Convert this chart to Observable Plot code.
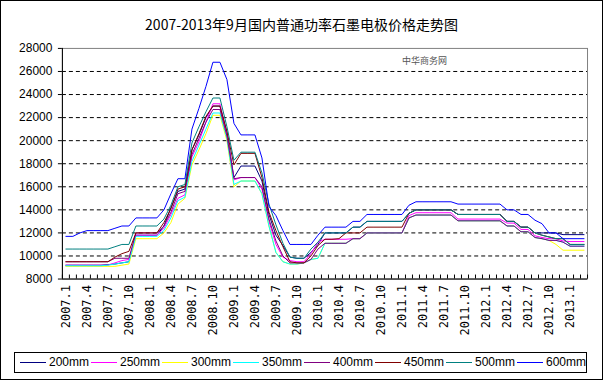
<!DOCTYPE html>
<html><head><meta charset="utf-8">
<script src="https://cdn.jsdelivr.net/npm/d3@7"></script>
<script src="https://cdn.jsdelivr.net/npm/@observablehq/plot@0.6"></script>
<style>
body{margin:0;background:#fff;}
#wrap{position:relative;width:603px;height:380px;box-sizing:border-box;border:1px solid #000;background:#fff;overflow:hidden;font-family:"Liberation Sans",Arial,sans-serif;}
#title{position:absolute;left:0;top:14px;width:601px;text-align:center;font-family:"Noto Sans CJK SC",sans-serif;font-size:14px;line-height:18px;color:#000;}
#chart{position:absolute;left:-1px;top:-1px;}
#mark{position:absolute;left:401px;top:55px;font-size:9px;line-height:10px;color:#555;font-family:"Noto Sans CJK SC",sans-serif;}
#legend{position:absolute;left:13px;top:351px;width:573px;height:21px;border:1px solid #000;box-sizing:border-box;background:#fff;}
.item{position:absolute;top:0;height:19px;font-size:12px;line-height:19px;font-family:"Liberation Sans Narrow","Liberation Sans",sans-serif;color:#000;white-space:nowrap;}
.item span.sw{display:inline-block;width:26px;height:1px;vertical-align:middle;margin-right:3px;}
</style></head>
<body>
<div id="wrap">
  <div id="title"></div>
  <div id="chart"></div>
  <div id="mark"></div>
  <div id="legend"></div>
</div>
<script>
const titleText = "2007-2013年9月国内普通功率石墨电极价格走势图";
const watermark = "中华商务网";

// months 2007.1 .. 2013.3
const months = [];
for (let y = 2007; y <= 2013; y++) for (let m = 1; m <= 12; m++) if (!(y === 2013 && m > 3)) months.push(y + "." + m);

const seriesNames = ["200mm","250mm","300mm","350mm","400mm","450mm","500mm","600mm"];
const seriesColors = ["#000080","#FF00FF","#FFFF00","#00FFFF","#800080","#800000","#008080","#0000FF"];

const s200 = [9200,9200,9200,9200,9200,9200,9250,9300,9400,9500,
 11800,11800,11800,11800,12600,14200,15600,15800,19200,20500,
 22000,23000,23000,20700,16800,17800,17800,17800,16500,13600,
 11800,10900,9900,9800,9800,10300,11000,12000,12000,12000,
 12000,12500,12500,13000,13000,13000,13000,13000,13000,13700,
 14000,14000,14000,14000,14000,14000,13600,13600,13600,13600,
 13600,13600,13600,13000,13000,12500,12500,12000,12000,12000,
 12000,11850,11850,11850,11850];
const s250 = [9200,9200,9200,9200,9200,9200,9200,9400,9600,9700,
 11800,11800,11800,11800,12400,13600,15000,15300,18600,19900,
 21600,23200,23200,20500,16600,16800,16800,16800,15800,13000,
 11000,9900,9600,9500,9500,10200,11200,11450,11450,11450,
 11450,11500,11500,12000,12000,12000,12000,12000,12000,13500,
 13750,13750,13750,13750,13750,13750,13200,13200,13200,13200,
 13200,13200,13200,12850,12850,12300,12300,11750,11600,11500,
 11500,11300,11250,11250,11250];
const s300 = [9100,9100,9100,9100,9100,9100,9100,9100,9200,9300,
 11500,11500,11500,11500,12000,12900,14500,15000,17900,19200,
 20600,22200,22200,20000,16000,16500,16500,16500,15400,12600,
 10300,9500,9300,9300,9400,9700,9800,11100,11100,11100,
 11100,11500,11500,12000,12000,12000,12000,12000,12000,13300,
 13550,13550,13550,13550,13550,13550,13050,13050,13050,13050,
 13050,13050,13050,12600,12600,12100,12100,11600,11500,11350,
 11000,10500,10500,10500,10500];
const s350 = [9150,9150,9150,9150,9150,9150,9200,9300,9400,9500,
 11700,11700,11700,11700,12200,13300,14800,15100,18200,19600,
 21000,22400,22400,20200,16200,16500,16500,16500,15400,12600,
 10300,9500,9300,9300,9400,9700,9800,11100,11100,11100,
 11100,11500,11500,12000,12000,12000,12000,12000,12000,13300,
 13550,13550,13550,13550,13550,13550,13050,13050,13050,13050,
 13050,13050,13050,12600,12600,12100,12100,11600,11500,11350,
 11350,11200,10850,10850,10850];
const s400 = [9500,9500,9500,9500,9500,9500,9500,9800,9800,9800,
 12000,12000,12000,12000,12600,13800,15400,15600,18800,20200,
 21600,22700,22700,20400,16700,16800,16800,16800,16000,13200,
 11300,10000,9400,9400,9400,9700,10600,11100,11100,11100,
 11100,11500,11500,12000,12000,12000,12000,12000,12000,13300,
 13550,13550,13550,13550,13550,13550,13050,13050,13050,13050,
 13050,13050,13050,12600,12600,12100,12100,11600,11500,11350,
 11350,11200,10850,10850,10850];
const s450 = [9500,9500,9500,9500,9500,9500,9500,9900,10200,10400,
 12000,12000,12000,12000,12900,14100,15800,16000,19200,20600,
 22100,23000,23000,20800,17900,18900,18900,18900,16800,13800,
 12200,10800,9500,9400,9400,10000,10900,11450,11450,11500,
 12000,12000,12000,12500,12500,12500,12500,12500,12500,13700,
 14000,14000,14000,14000,14000,14000,13600,13600,13600,13600,
 13600,13600,13600,13000,13000,12500,12500,12000,11800,11650,
 11500,11500,11000,11000,11000];
const s500 = [10600,10600,10600,10600,10600,10600,10600,10800,11000,11000,
 12600,12600,12600,12600,13200,14400,16000,16200,19800,21200,
 22500,23700,23700,21200,18300,19000,19000,19000,17200,14500,
 12700,11100,9900,9800,9800,10600,11200,12000,12000,12000,
 12000,12500,12500,13000,13000,13000,13000,13000,13000,13700,
 14000,14000,14000,14000,14000,14000,13600,13600,13600,13600,
 13600,13600,13600,13000,13000,12500,12500,12000,11800,11650,
 11500,11500,11000,11000,11000];
const s600 = [11700,11700,12000,12200,12200,12200,12200,12400,12600,12600,
 13300,13300,13300,13300,14000,15400,16700,16700,21000,22800,
 24700,26800,26800,25300,21500,20500,20500,20500,18500,14300,
 13500,12200,11000,11000,11000,11000,11800,12500,12500,12500,
 12500,13000,13000,13600,13600,13600,13600,13600,13600,14400,
 14700,14700,14700,14700,14700,14700,14500,14500,14500,14500,
 14500,14500,14500,14000,14000,13600,13600,13100,12800,12000,
 12000,11500,11500,11500,11500];

const yTicks = [8000,10000,12000,14000,16000,18000,20000,22000,24000,26000,28000];

const allSeries = [s200,s250,s300,s350,s400,s450,s500,s600];
const rows = [];
allSeries.forEach((arr, k) => arr.forEach((v, i) => rows.push({m: i, v, s: seriesNames[k]})));

const n = months.length;
const labelIdx = months.map((d, i) => i).filter(i => i % 3 === 0);
const bounds = d3.range(n + 1).map(i => i - 0.5);
const tickLen = (yTicks[yTicks.length-1] - yTicks[0]) * 4 / 231;

const chart = Plot.plot({
  width: 603, height: 345,
  marginLeft: 62, marginRight: 15, marginTop: 48, marginBottom: 66,
  style: {fontFamily: "'Liberation Sans', Arial, sans-serif", fontSize: "12px", background: "transparent", color: "#000", overflow: "visible"},
  x: {domain: [-0.5, n - 0.5]},
  y: {domain: [yTicks[0], yTicks[yTicks.length-1]]},
  color: {domain: seriesNames, range: seriesColors},
  marks: [
    Plot.gridY(yTicks.slice(1, -1), {stroke: "#000", strokeOpacity: 1, strokeDasharray: "4,3"}),
    Plot.frame({stroke: "#808080"}),
    Plot.ruleY([yTicks[0]], {stroke: "#000"}),
    Plot.ruleX([-0.5], {stroke: "#000"}),
    Plot.ruleX(bounds, {x: d => d, y1: yTicks[0], y2: yTicks[0] + tickLen, stroke: "#000"}),
    Plot.axisY(yTicks, {tickSize: 4, tickPadding: 6, fontSize: 12, tickFormat: d => String(d), label: null}),
    Plot.axisX(labelIdx, {tickSize: 0, tickPadding: 6, tickRotate: -90, tickFormat: i => months[i], fontSize: 12, fontFamily: "'DejaVu Sans Mono', monospace", label: null}),
    Plot.line(rows, {x: "m", y: "v", z: "s", stroke: "s", strokeWidth: 1})
  ]
});
document.getElementById("chart").appendChild(chart);
document.getElementById("title").textContent = titleText;
document.getElementById("mark").textContent = watermark;

const leg = document.getElementById("legend");
seriesNames.forEach((name, k) => {
  const it = document.createElement("div");
  it.className = "item";
  it.style.left = (5 + 71 * k) + "px";
  const sw = document.createElement("span");
  sw.className = "sw";
  sw.style.background = seriesColors[k];
  it.appendChild(sw);
  it.appendChild(document.createTextNode(name));
  leg.appendChild(it);
});
</script>
</body></html>
